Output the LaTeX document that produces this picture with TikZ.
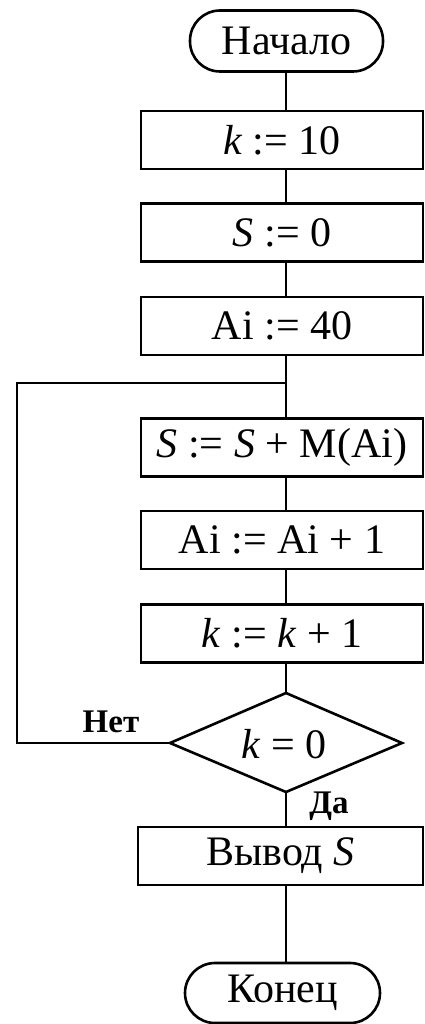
\documentclass[tikz,border=0pt]{standalone}
\usepackage{fontspec}
\setmainfont{Liberation Serif}
\begin{document}
\begin{tikzpicture}[x=1pt,y=-1pt,
  line width=2.6pt,
  every node/.style={font=\fontsize{42}{46}\selectfont, inner sep=0pt},
  term/.style={draw, rectangle, rounded corners=30pt, minimum height=61pt},
  proc/.style={draw, rectangle, minimum width=282pt, minimum height=58pt},
  lbl/.style={font=\fontsize{33}{35}\selectfont\bfseries}]
\useasboundingbox (0,0) rectangle (425,1024);
\node[term, minimum width=193pt] (start) at (286.5,41) {Начало};
\node[proc] (b1) at (282,140) {\textit{k} :=~10};
\node[proc] (b2) at (282,232.5) {\textit{S} :=~0};
\node[proc] (b3) at (282,326) {Ai :=~40};
\coordinate (J) at (286,383);
\node[proc] (b4) at (282,447.5) {\textit{S} :=~\textit{S}~+~M(Ai)};
\node[proc] (b5) at (282,540) {Ai :=~Ai~+~1};
\node[proc] (b6) at (282,633.5) {\textit{k} :=~\textit{k}~+~1};
\coordinate (dt) at (286,693);
\coordinate (dr) at (402,743);
\coordinate (db) at (286,792);
\coordinate (dl) at (170,743);
\draw (dt) -- (dr) -- (db) -- (dl) -- cycle;
\node (dtext) at (284,744) {\textit{k} =~0};
\coordinate (L) at (17,743);
\node[proc, minimum width=285pt] (b7) at (280.5,856) {Вывод \textit{S}};
\node[term, minimum width=195pt, minimum height=60pt] (end) at (282.5,993) {Конец};
\node[lbl] (no) at (111,722) {Нет};
\node[lbl] (yes) at (329,806) {Да};
\draw (start.south -| J) -- (J |- b1.north);
\draw (J |- b1.south) -- (J |- b2.north);
\draw (J |- b2.south) -- (J |- b3.north);
\draw (J |- b3.south) -- (J |- b4.north);
\draw (J |- b4.south) -- (J |- b5.north);
\draw (J |- b5.south) -- (J |- b6.north);
\draw (J |- b6.south) -- (dt);
\draw (db) -- (J |- b7.north);
\draw (J |- b7.south) -- (J |- end.north);
\draw (dl) -- (L) |- (J);
\end{tikzpicture}
\end{document}
